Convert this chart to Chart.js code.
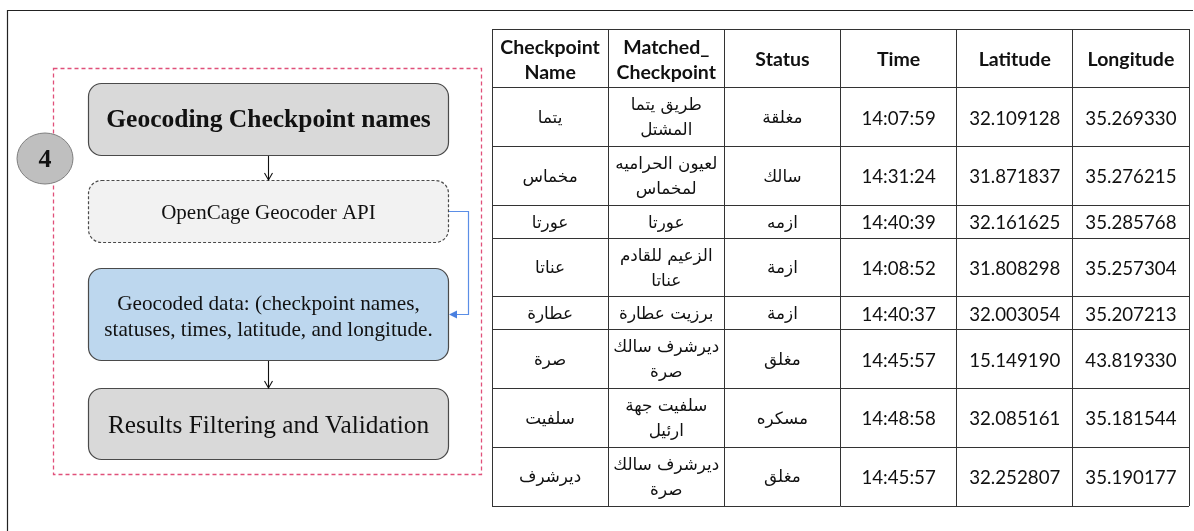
<!DOCTYPE html>
<html>
<head>
<meta charset="utf-8">
<script src="https://cdn.jsdelivr.net/npm/chart.js@4.4.1/dist/chart.umd.min.js"></script>
<style>
  html, body { margin: 0; padding: 0; background: #fff; }
  #wrap { width: 1194px; height: 531px; }
</style>
</head>
<body>
<div id="wrap"><canvas id="geoChart" width="1194" height="531"></canvas></div>
<script>
// ===== Table data =====
const headers = ['Checkpoint\nName', 'Matched_\nCheckpoint', 'Status', 'Time', 'Latitude', 'Longitude'];
const checkpointNames = ['يتما', 'مخماس', 'عورتا', 'عناتا', 'عطارة', 'صرة', 'سلفيت', 'ديرشرف'];
const matchedCheckpoints = ['طريق يتما\nالمشتل', 'لعيون الحراميه\nلمخماس', 'عورتا', 'الزعيم للقادم\nعناتا',
  'برزيت عطارة', 'ديرشرف سالك\nصرة', 'سلفيت جهة\nارئيل', 'ديرشرف سالك\nصرة'];
const statuses = ['مغلقة', 'سالك', 'ازمه', 'ازمة', 'ازمة', 'مغلق', 'مسكره', 'مغلق'];
const times = ['14:07:59', '14:31:24', '14:40:39', '14:08:52', '14:40:37', '14:45:57', '14:48:58', '14:45:57'];
const latitudes = [32.109128, 31.871837, 32.161625, 31.808298, 32.003054, 15.149190, 32.085161, 32.252807];
const longitudes = [35.269330, 35.276215, 35.285768, 35.257304, 35.207213, 43.819330, 35.181544, 35.190177];

// ===== Flowchart steps =====
const stepNumber = '4';
const flowSteps = ['Geocoding Checkpoint names', 'OpenCage Geocoder API',
  'Geocoded data: (checkpoint names,\nstatuses, times, latitude, and longitude.',
  'Results Filtering and Validation'];

// Build the rows (header first)
const rows = [headers];
checkpointNames.forEach((n, i) => {
  rows.push([n, matchedCheckpoints[i], statuses[i], times[i],
    latitudes[i].toFixed(6), longitudes[i].toFixed(6)]);
});

// Row heights in "line" units: one extra slot of padding per row
const rowHeights = rows.map(r => Math.max(...r.map(t => t.split('\n').length)) * 26 + 7);
const rowEdges = [0];
rowHeights.forEach(h => rowEdges.push(rowEdges[rowEdges.length - 1] + h));
const colEdges = headers.map((_, i) => i).concat(headers.length);

// One point per cell, placed at the cell centre
const cellPoints = [];
rows.forEach((r, ri) => {
  r.forEach((t, ci) => {
    cellPoints.push({ x: ci + 0.5, y: (rowEdges[ri] + rowEdges[ri + 1]) / 2, text: t, head: ri === 0 });
  });
});

const arabic = /[\u0600-\u06FF]/;

// Draw text of each cell at the point the scales give
const cellTextPlugin = {
  id: 'cellText',
  afterDatasetsDraw(chart) {
    const ctx = chart.ctx;
    const meta = chart.getDatasetMeta(0);
    const pts = chart.data.datasets[0].data;
    ctx.save();
    ctx.fillStyle = '#111';
    ctx.textAlign = 'center';
    ctx.textBaseline = 'middle';
    meta.data.forEach((el, i) => {
      const p = pts[i];
      const lines = p.text.split('\n');
      if (p.head) ctx.font = 'bold 19.5px Lato, sans-serif';
      else if (arabic.test(p.text)) ctx.font = '16.8px "DejaVu Sans", sans-serif';
      else ctx.font = '18.7px Lato, sans-serif';
      const lh = 25;
      lines.forEach((ln, k) => {
        ctx.fillText(ln, el.x, el.y + 1.5 + (k - (lines.length - 1) / 2) * lh);
      });
    });
    ctx.restore();
  }
};

// Frame and the flowchart on the left
function arrowDown(ctx, x, y1, y2) {
  ctx.beginPath();
  ctx.moveTo(x, y1);
  ctx.lineTo(x, y2);
  ctx.moveTo(x - 4, y2 - 7);
  ctx.lineTo(x, y2);
  ctx.lineTo(x + 4, y2 - 7);
  ctx.stroke();
}

function boxText(ctx, text, cx, cy, font, lh) {
  ctx.font = font;
  const lines = text.split('\n');
  lines.forEach((ln, k) => ctx.fillText(ln, cx, cy + (k - (lines.length - 1) / 2) * lh));
}

const flowPlugin = {
  id: 'flow',
  beforeDraw(chart) {
    const ctx = chart.ctx;
    ctx.save();
    ctx.fillStyle = '#fff';
    ctx.fillRect(0, 0, chart.width, chart.height);

    // outer frame
    ctx.strokeStyle = '#222';
    ctx.lineWidth = 1.2;
    ctx.beginPath();
    ctx.moveTo(7.5, 531);
    ctx.lineTo(7.5, 10.5);
    ctx.lineTo(1193, 10.5);
    ctx.stroke();

    // dashed group box
    ctx.strokeStyle = '#e0507a';
    ctx.lineWidth = 1.3;
    ctx.setLineDash([4, 3]);
    ctx.strokeRect(53.5, 68.5, 428, 406);
    ctx.setLineDash([]);

    // step number bubble
    ctx.fillStyle = '#bfbfbf';
    ctx.strokeStyle = '#7f7f7f';
    ctx.lineWidth = 1;
    ctx.beginPath();
    ctx.ellipse(45, 158.5, 28, 25.5, 0, 0, Math.PI * 2);
    ctx.fill();
    ctx.stroke();
    ctx.fillStyle = '#111';
    ctx.textAlign = 'center';
    ctx.textBaseline = 'middle';
    ctx.font = 'bold 26px "Liberation Serif", serif';
    ctx.fillText(stepNumber, 45, 160);

    const x = 88.5, w = 360;
    const boxes = [
      { y: 83.5, h: 72, fill: '#d9d9d9', dash: [], font: 'bold 25.5px "Liberation Serif", serif', ty: 120.5 },
      { y: 180.5, h: 62, fill: '#f2f2f2', dash: [3, 2], font: '21px "Liberation Serif", serif', ty: 213 },
      { y: 268.5, h: 92, fill: '#bdd7ee', dash: [], font: '21.2px "Liberation Serif", serif', ty: 317 },
      { y: 388.5, h: 71, fill: '#d9d9d9', dash: [], font: '25.3px "Liberation Serif", serif', ty: 426 }
    ];
    boxes.forEach((b, i) => {
      ctx.fillStyle = b.fill;
      ctx.strokeStyle = '#4a4a4a';
      ctx.lineWidth = 1.2;
      ctx.setLineDash(b.dash);
      ctx.beginPath();
      ctx.roundRect(x, b.y, w, b.h, 13);
      ctx.fill();
      ctx.stroke();
      ctx.setLineDash([]);
      ctx.fillStyle = '#111';
      boxText(ctx, flowSteps[i], x + w / 2, b.ty, b.font, 26);
    });

    // arrows
    ctx.strokeStyle = '#111';
    ctx.lineWidth = 1.1;
    arrowDown(ctx, 268.5, 156, 180);
    arrowDown(ctx, 268.5, 361, 388);

    // blue side connector
    ctx.strokeStyle = '#5b8ee6';
    ctx.fillStyle = '#4a80e0';
    ctx.lineWidth = 1.2;
    ctx.beginPath();
    ctx.moveTo(449, 211.5);
    ctx.lineTo(468.5, 211.5);
    ctx.lineTo(468.5, 314.5);
    ctx.lineTo(456, 314.5);
    ctx.stroke();
    ctx.beginPath();
    ctx.moveTo(449, 314.5);
    ctx.lineTo(457, 310.5);
    ctx.lineTo(457, 318.5);
    ctx.closePath();
    ctx.fill();
    ctx.restore();
  }
};

const ctx = document.getElementById('geoChart').getContext('2d');
new Chart(ctx, {
  type: 'scatter',
  data: {
    datasets: [{
      label: 'cells',
      data: cellPoints,
      pointRadius: 0,
      pointHoverRadius: 0
    }]
  },
  options: {
    responsive: false,
    animation: false,
    events: [],
    layout: { padding: { left: 492, top: 29, right: 5, bottom: 25 } },
    plugins: { legend: { display: false }, tooltip: { enabled: false } },
    scales: {
      x: {
        type: 'linear',
        min: 0,
        max: headers.length,
        afterBuildTicks: axis => { axis.ticks = colEdges.map(v => ({ value: v })); },
        ticks: { display: false },
        grid: { color: '#333', lineWidth: 1, drawTicks: false },
        border: { display: false }
      },
      y: {
        type: 'linear',
        reverse: true,
        min: 0,
        max: rowEdges[rowEdges.length - 1],
        afterBuildTicks: axis => { axis.ticks = rowEdges.map(v => ({ value: v })); },
        ticks: { display: false },
        grid: { color: '#333', lineWidth: 1, drawTicks: false },
        border: { display: false }
      }
    }
  },
  plugins: [flowPlugin, cellTextPlugin]
});
</script>
</body>
</html>
